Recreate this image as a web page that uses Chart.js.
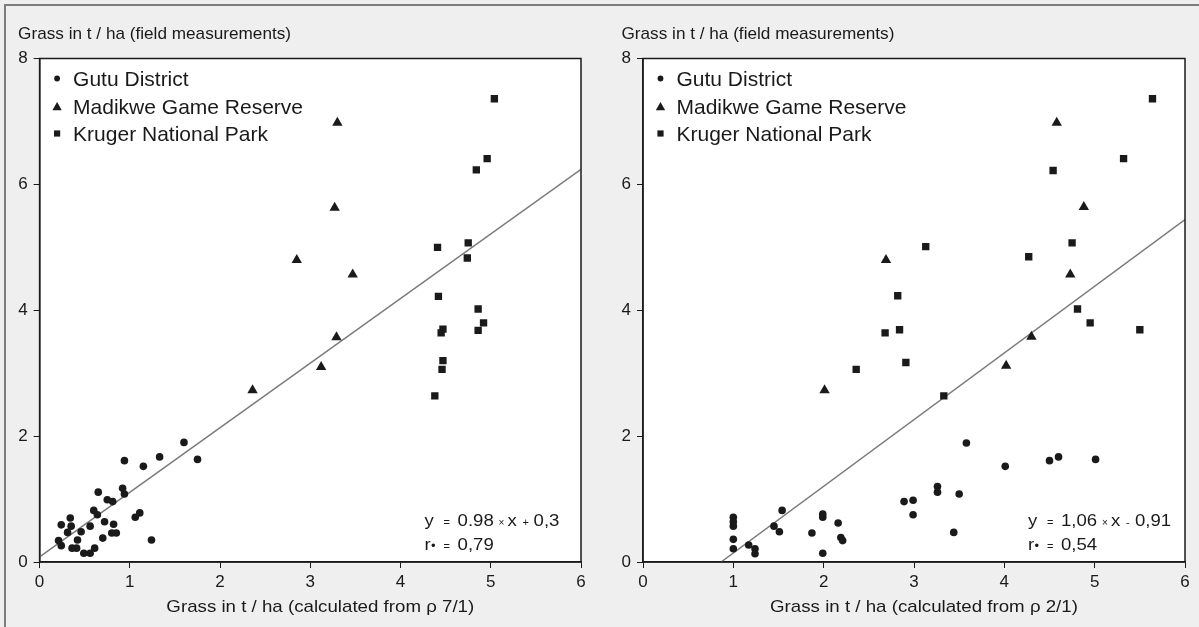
<!DOCTYPE html>
<html><head><meta charset="utf-8">
<script src="https://cdn.jsdelivr.net/npm/chart.js@4.4.0/dist/chart.umd.min.js"></script>
<style>
html,body{margin:0;padding:0;background:#efefef;width:1199px;height:627px;overflow:hidden;}
#frame{position:absolute;left:4px;top:4px;width:1210px;height:640px;border-top:2px solid #7d7d7d;border-left:2px solid #7d7d7d;}
canvas{position:absolute;top:0;}
</style></head><body>
<div id="frame"></div>
<canvas id="c1" width="612" height="627" style="left:0px"></canvas>
<canvas id="c2" width="594" height="627" style="left:605px"></canvas>
<script>
// ---------- data ----------
const seriesNames = ['Gutu District', 'Madikwe Game Reserve', 'Kruger National Park'];
const xTickValues = [0, 1, 2, 3, 4, 5, 6];
const yTickValues = [0, 2, 4, 6, 8];
const yTitle = 'Grass in t / ha (field measurements)';

// Left panel: calculated from ρ 7/1
const xTitle71 = 'Grass in t / ha (calculated from ρ 7/1)';
const gutuX71 = [0.21,0.24,0.24,0.34,0.35,0.31,0.36,0.41,0.42,0.46,0.49,0.56,0.56,0.61,0.60,0.64,0.65,0.70,0.72,0.75,0.81,0.82,0.80,0.85,0.92,0.94,0.94,1.06,1.11,1.15,1.24,1.33,1.60,1.75];
const gutuY71 = [0.34,0.26,0.59,0.70,0.57,0.47,0.22,0.22,0.35,0.48,0.14,0.14,0.57,0.22,0.82,0.75,1.11,0.38,0.64,0.99,0.96,0.60,0.46,0.46,1.17,1.08,1.61,0.71,0.78,1.52,0.35,1.67,1.90,1.63];
const madikweX71 = [3.30,3.27,2.85,3.47,3.29,3.12,2.36];
const madikweY71 = [6.98,5.63,4.80,4.57,3.57,3.10,2.73];
const krugerX71 = [5.04,4.96,4.84,4.41,4.75,4.74,4.42,4.86,4.92,4.86,4.47,4.45,4.47,4.46,4.38];
const krugerY71 = [7.36,6.41,6.23,5.00,5.07,4.83,4.22,4.02,3.80,3.68,3.70,3.64,3.20,3.06,2.64];
const fitX71 = [0, 6];
const fitY71 = [0.08, 6.24];
const eq71 = {slope: '0.98', op: '+', icpt: '0,3', r2: '0,79'};

// Right panel: calculated from ρ 2/1
const xTitle21 = 'Grass in t / ha (calculated from ρ 2/1)';
const gutuX21 = [1.00,1.00,1.00,1.00,1.00,1.17,1.24,1.24,1.45,1.51,1.54,1.87,1.99,1.99,1.99,2.16,2.19,2.21,2.89,2.99,2.99,3.26,3.26,3.50,3.44,3.58,4.01,4.50,4.60,5.01];
const gutuY21 = [0.71,0.64,0.57,0.36,0.21,0.27,0.21,0.13,0.57,0.48,0.82,0.46,0.76,0.71,0.14,0.62,0.39,0.34,0.96,0.98,0.75,1.20,1.11,1.08,0.47,1.89,1.52,1.61,1.67,1.63];
const madikweX21 = [4.58,4.88,2.69,4.73,4.30,4.02,2.01];
const madikweY21 = [6.98,5.64,4.80,4.57,3.58,3.12,2.73];
const krugerX21 = [5.64,5.32,4.54,4.75,3.13,4.27,2.82,4.81,4.95,5.50,2.84,2.68,2.91,2.36,3.33];
const krugerY21 = [7.36,6.41,6.22,5.07,5.01,4.85,4.23,4.02,3.80,3.69,3.69,3.64,3.17,3.06,2.64];
const fitX21 = [0.864, 6];
const fitY21 = [0, 5.44];
const eq21 = {slope: '1,06', op: '-', icpt: '0,91', r2: '0,54'};

// ---------- helpers ----------
const INK = '#1a1a1a';
const FONT = '"Liberation Sans", Arial, Helvetica, sans-serif';
const pts = (xs, ys) => xs.map((x, i) => ({x, y: ys[i]}));

function txt(ctx, s, x, y, size, sx, align) {
  ctx.save();
  ctx.font = size + 'px ' + FONT;
  ctx.fillStyle = INK;
  ctx.textBaseline = 'alphabetic';
  ctx.textAlign = align || 'left';
  ctx.translate(x, y);
  ctx.scale(sx || 1, 1);
  ctx.fillText(s, 0, 0);
  ctx.restore();
}

function marker(ctx, style, x, y, r) {
  ctx.save();
  ctx.fillStyle = INK;
  ctx.beginPath();
  if (style === 'circle') {
    ctx.arc(x, y, r, 0, Math.PI * 2);
  } else if (style === 'triangle') {
    ctx.moveTo(x, y - r);
    ctx.lineTo(x + r * 0.866, y + r * 0.5);
    ctx.lineTo(x - r * 0.866, y + r * 0.5);
    ctx.closePath();
  } else {
    ctx.rect(x - r, y - r, 2 * r, 2 * r);
  }
  ctx.fill();
  ctx.restore();
}

const decorPlugin = {
  id: 'decor',
  beforeDraw(chart) {
    const a = chart.chartArea, ctx = chart.ctx;
    ctx.save();
    ctx.fillStyle = '#ffffff';
    ctx.fillRect(a.left, a.top, a.right - a.left, a.bottom - a.top);
    ctx.restore();
  },
  afterDraw(chart, args, opts) {
    const a = chart.chartArea, ctx = chart.ctx;
    ctx.save();
    ctx.strokeStyle = INK;
    ctx.lineWidth = 1.5;
    ctx.strokeRect(a.left, a.top, a.right - a.left, a.bottom - a.top);
    ctx.restore();
    // y-axis title (horizontal, above plot)
    txt(ctx, yTitle, a.left - 21.5, 39, 17, 1.01);
    // x-axis title
    txt(ctx, opts.xTitle, (a.left + a.right) / 2 + 10, 612, 17, 1.1, 'center');
    // legend
    const styles = ['circle', 'triangle', 'rect'];
    const sizes = [2.9, 5.4, 3.1];
    const rows = [78.5, 106.5, 133.5];
    seriesNames.forEach((n, i) => {
      marker(ctx, styles[i], a.left + 17.5, rows[i] + (i === 1 ? 1 : 0), sizes[i]);
      txt(ctx, n, a.left + 33.5, rows[i] + 7.5, 21, 1);
    });
    // equation
    const e = opts.eq, x0 = a.left + 385, sx = 1.16;
    const b1 = 526, b2 = 550;
    txt(ctx, 'y', x0, b1, 16, sx);
    txt(ctx, '=', x0 + 19, b1, 10, 1.1);
    txt(ctx, e.slope, x0 + 33, b1, 16, sx);
    txt(ctx, '×', x0 + 74, b1, 10, 1);
    txt(ctx, 'x', x0 + 83, b1, 16, sx);
    txt(ctx, e.op, x0 + 98, b1, 10, 1.1);
    txt(ctx, e.icpt, x0 + (e.op === '+' ? 109 : 107), b1, 16, sx);
    txt(ctx, 'r', x0, b2, 16, sx);
    txt(ctx, '•', x0 + 6.5, b2, 13, 1);
    txt(ctx, '=', x0 + 19, b2, 10, 1.1);
    txt(ctx, e.r2, x0 + 33, b2, 16, sx);
  }
};

function makeChart(id, p) {
  const axisGrid = {display: true, drawOnChartArea: false, drawTicks: true, tickLength: 6, color: INK, lineWidth: 1};
  const tickFont = {family: FONT, size: 17};
  return new Chart(document.getElementById(id), {
    type: 'scatter',
    data: {
      datasets: [
        {label: seriesNames[0], data: pts(p.gX, p.gY), pointStyle: 'circle', pointRadius: 3.8, backgroundColor: INK, borderWidth: 0, order: 1},
        {label: seriesNames[1], data: pts(p.mX, p.mY), pointStyle: 'triangle', pointRadius: 6, backgroundColor: INK, borderWidth: 0, order: 1},
        {label: seriesNames[2], data: pts(p.kX, p.kY), pointStyle: 'rect', pointRadius: 5.2, backgroundColor: INK, borderWidth: 0, order: 1},
        {label: 'fit', data: pts(p.fX, p.fY), showLine: true, pointRadius: 0, borderColor: '#7a7a7a', borderWidth: 1.5, order: 10}
      ]
    },
    options: {
      responsive: false,
      animation: false,
      events: [],
      layout: {padding: {left: 0, right: p.padRight, top: 58.5, bottom: 0}},
      plugins: {legend: {display: false}, tooltip: {enabled: false}, title: {display: false}, decor: {xTitle: p.xTitle, eq: p.eq}},
      scales: {
        x: {
          type: 'linear', min: 0, max: 6,
          afterBuildTicks: s => { s.ticks = xTickValues.map(v => ({value: v})); },
          afterFit: s => { s.height = 65; },
          ticks: {font: tickFont, color: INK, padding: 4, maxRotation: 0},
          grid: axisGrid,
          border: {display: true, color: INK, width: 1.5}
        },
        y: {
          type: 'linear', min: 0, max: 8,
          afterBuildTicks: s => { s.ticks = yTickValues.map(v => ({value: v})); },
          afterFit: s => { s.width = p.yWidth; },
          ticks: {font: tickFont, color: INK, padding: 6},
          grid: axisGrid,
          border: {display: true, color: INK, width: 1.5}
        }
      }
    },
    plugins: [decorPlugin]
  });
}

makeChart('c1', {gX: gutuX71, gY: gutuY71, mX: madikweX71, mY: madikweY71, kX: krugerX71, kY: krugerY71, fX: fitX71, fY: fitY71, xTitle: xTitle71, eq: eq71, yWidth: 39.6, padRight: 31});
makeChart('c2', {gX: gutuX21, gY: gutuY21, mX: madikweX21, mY: madikweY21, kX: krugerX21, kY: krugerY21, fX: fitX21, fY: fitY21, xTitle: xTitle21, eq: eq21, yWidth: 38, padRight: 14});
</script>
</body></html>
